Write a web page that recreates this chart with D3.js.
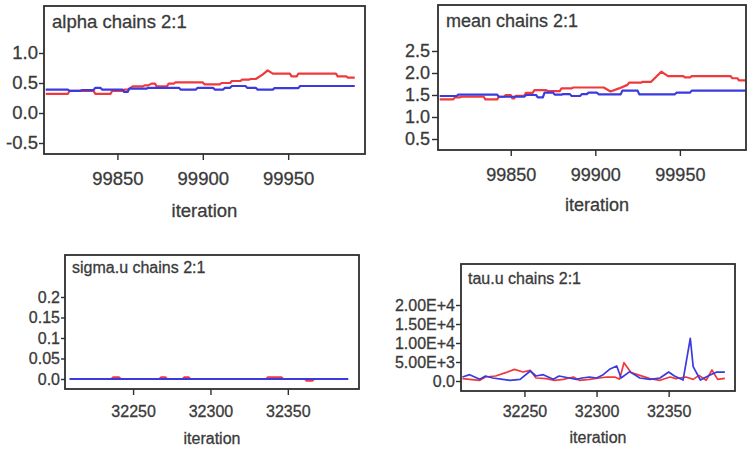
<!DOCTYPE html>
<html>
<head>
<meta charset="utf-8">
<script src="https://cdn.jsdelivr.net/npm/d3@7"></script>
<style>
  body { margin: 0; background: #fff; }
  svg { display: block; font-family: "Liberation Sans", Arial, sans-serif; }
  svg text { stroke: #3a3a3a; stroke-width: 0.3px; }
</style>
</head>
<body>
<svg id="chart" width="747" height="451"></svg>
<script>
// ---- Trace data: [iteration, value]; chain 1 drawn blue, chain 2 drawn red ----
const alphaChain1 = [[99808,0.39],[99821,0.39],[99822,0.37],[99828,0.37],[99829,0.38],[99836,0.38],[99837,0.42],[99840,0.42],[99841,0.39],[99853,0.39],[99854,0.35],[99856,0.35],[99857,0.405],[99867,0.405],[99868,0.42],[99886,0.42],[99887,0.39],[99896,0.39],[99897,0.42],[99906,0.42],[99907,0.39],[99912,0.39],[99913,0.42],[99916,0.42],[99917,0.45],[99925,0.45],[99926,0.42],[99931,0.42],[99932,0.39],[99941,0.39],[99942,0.415],[99956,0.415],[99957,0.45],[99989,0.45]];
const alphaChain2 = [[99808,0.32],[99821,0.32],[99822,0.37],[99836,0.37],[99837,0.32],[99846,0.32],[99847,0.37],[99853,0.37],[99854,0.39],[99856,0.39],[99859,0.445],[99865,0.445],[99866,0.46],[99868,0.46],[99870,0.49],[99872,0.49],[99873,0.445],[99879,0.445],[99880,0.49],[99883,0.49],[99884,0.51],[99900,0.51],[99901,0.478],[99910,0.478],[99911,0.5],[99916,0.5],[99917,0.533],[99922,0.533],[99923,0.555],[99927,0.555],[99928,0.567],[99931,0.567],[99935,0.64],[99938,0.71],[99941,0.655],[99951,0.655],[99952,0.61],[99955,0.61],[99956,0.655],[99978,0.655],[99979,0.61],[99984,0.61],[99985,0.59],[99989,0.59]];

const meanChain1 = [[99808,1.477],[99818,1.477],[99819,1.508],[99842,1.508],[99843,1.46],[99858,1.46],[99859,1.5],[99865,1.5],[99866,1.447],[99869,1.447],[99870,1.553],[99875,1.553],[99876,1.508],[99880,1.508],[99881,1.52],[99885,1.52],[99886,1.477],[99891,1.477],[99892,1.52],[99895,1.52],[99896,1.553],[99901,1.553],[99902,1.515],[99915,1.515],[99916,1.6],[99925,1.6],[99926,1.515],[99947,1.515],[99948,1.553],[99956,1.553],[99957,1.6],[99989,1.6]];
const meanChain2 = [[99808,1.40],[99816,1.40],[99817,1.447],[99820,1.447],[99821,1.46],[99834,1.46],[99835,1.40],[99842,1.40],[99843,1.46],[99846,1.46],[99847,1.5],[99850,1.5],[99851,1.42],[99852,1.42],[99853,1.48],[99858,1.48],[99859,1.55],[99863,1.55],[99864,1.61],[99871,1.61],[99872,1.59],[99879,1.59],[99880,1.65],[99886,1.65],[99887,1.67],[99905,1.67],[99909,1.58],[99914,1.65],[99919,1.73],[99920,1.78],[99927,1.78],[99928,1.80],[99933,1.80],[99939,2.03],[99943,1.93],[99952,1.93],[99953,1.90],[99956,1.90],[99957,1.93],[99980,1.93],[99981,1.88],[99984,1.88],[99985,1.83],[99989,1.83]];

const sigmaChain1 = [[32209,0],[32389,0]];
const sigmaChain2 = [[32209,0],[32236,0],[32237,0.004],[32241,0.004],[32242,0],[32267,0],[32268,0.004],[32271,0.004],[32272,0],[32282,0],[32283,0.004],[32286,0.004],[32287,0],[32336,0],[32337,0.004],[32346,0.004],[32347,0],[32361,0],[32362,-0.004],[32366,-0.004],[32367,0],[32389,0]];

const tauChain1 = [[32207,1050],[32212,1670],[32219,440],[32223,1320],[32228,790],[32235,440],[32240,180],[32247,440],[32254,2630],[32258,1320],[32263,1670],[32270,440],[32274,1320],[32281,790],[32286,440],[32290,790],[32295,1050],[32300,790],[32304,1490],[32309,3070],[32314,3950],[32317,790],[32323,2460],[32330,790],[32337,440],[32344,790],[32350,2370],[32354,1320],[32360,260],[32365,11240],[32367,3770],[32372,260],[32378,1440],[32383,2320],[32389,2320]];
const tauChain2 = [[32207,610],[32212,440],[32219,180],[32223,1050],[32230,1320],[32237,2190],[32243,3070],[32249,2370],[32254,2810],[32258,790],[32265,610],[32271,180],[32277,440],[32284,1050],[32288,180],[32295,440],[32302,790],[32307,1050],[32313,1000],[32316,500],[32319,4820],[32324,2190],[32330,1490],[32337,610],[32344,180],[32351,1050],[32355,610],[32362,1050],[32367,440],[32371,1490],[32376,180],[32380,2900],[32384,440],[32389,700]];

// ---- Tick values and their printed labels ----
const alphaTicks = [1.0, 0.5, 0.0, -0.5];
const alphaTickLabels = ["1.0", "0.5", "0.0", "-0.5"];
const meanTicks = [2.5, 2.0, 1.5, 1.0, 0.5];
const meanTickLabels = ["2.5", "2.0", "1.5", "1.0", "0.5"];
const sigmaTicks = [0.2, 0.15, 0.1, 0.05, 0.0];
const sigmaTickLabels = ["0.2", "0.15", "0.1", "0.05", "0.0"];
const tauTicks = [20000, 15000, 10000, 5000, 0];
const tauTickLabels = ["2.00E+4", "1.50E+4", "1.00E+4", "5.00E+3", "0.0"];
const upperIterTicks = [99850, 99900, 99950];
const lowerIterTicks = [32250, 32300, 32350];

const titles = ["alpha chains 2:1", "mean chains 2:1", "sigma.u chains 2:1", "tau.u chains 2:1"];
const xLabel = "iteration";

// ---- Panel layout ----
const panels = [
  { title: titles[0], c1: alphaChain1, c2: alphaChain2, yTicks: alphaTicks, yLabels: alphaTickLabels, xTicks: upperIterTicks,
    xDomain: [99807, 99995], yDomain: [-0.683, 1.783], xRange: [44, 365], frameRight: 365, top: 6, bottom: 154,
    font: 18.5, titleDx: 8, titleDy: 22, xPad: 12, labelDy: 63, yTick: 5, yPad: 1, lw: 2.2 },
  { title: titles[1], c1: meanChain1, c2: meanChain2, yTicks: meanTicks, yLabels: meanTickLabels, xTicks: upperIterTicks,
    xDomain: [99807, 99995], yDomain: [0.25, 3.545], xRange: [438, 756], frameRight: 746, top: 5, bottom: 150,
    font: 18, titleDx: 8, titleDy: 22, xPad: 12, labelDy: 61, yTick: 6, yPad: 2, lw: 2.2 },
  { title: titles[2], c1: sigmaChain1, c2: sigmaChain2, yTicks: sigmaTicks, yLabels: sigmaTickLabels, xTicks: lowerIterTicks,
    xDomain: [32206, 32396], yDomain: [-0.0244, 0.3024], xRange: [65, 359], frameRight: 359, top: 255, bottom: 389,
    font: 16, titleDx: 7, titleDy: 18, xPad: 11, labelDy: 55, yTick: 4, yPad: 1, lw: 2 },
  { title: titles[3], c1: tauChain1, c2: tauChain2, yTicks: tauTicks, yLabels: tauTickLabels, xTicks: lowerIterTicks,
    xDomain: [32206, 32396], yDomain: [-2632, 30790], xRange: [461, 735], frameRight: 735, top: 264, bottom: 391,
    font: 16, titleDx: 7, titleDy: 20, xPad: 9, labelDy: 52, yTick: 5, yPad: 1, lw: 1.7 }
];

const TEXT = "#3a3a3a";
const FRAME = "#2e2e2e";
const RED = "#f0393c";
const BLUE = "#3a3ae0";

const svg = d3.select("#chart");

panels.forEach((p, i) => {
  const x = d3.scaleLinear().domain(p.xDomain).range(p.xRange);
  const y = d3.scaleLinear().domain(p.yDomain).range([p.bottom, p.top]);
  const left = p.xRange[0];
  const g = svg.append("g");

  const clipId = "clip" + i;
  g.append("clipPath").attr("id", clipId)
    .append("rect").attr("x", left).attr("y", p.top)
    .attr("width", p.frameRight - left).attr("height", p.bottom - p.top);

  // y axis
  const yAxis = d3.axisLeft(y).tickValues(p.yTicks)
    .tickFormat((d, k) => p.yLabels[k])
    .tickSizeInner(p.yTick).tickSizeOuter(0).tickPadding(p.yPad);
  const ya = g.append("g").attr("transform", `translate(${left},0)`).call(yAxis);
  ya.select(".domain").remove();
  ya.selectAll("line").attr("stroke", FRAME).attr("stroke-width", 1.4);
  ya.selectAll("text").attr("fill", TEXT).attr("font-size", p.font)
    .attr("font-family", '"Liberation Sans", Arial, sans-serif');

  // x axis
  const xAxis = d3.axisBottom(x).tickValues(p.xTicks).tickFormat(d3.format("d"))
    .tickSizeInner(6).tickSizeOuter(0).tickPadding(p.xPad);
  const xa = g.append("g").attr("transform", `translate(0,${p.bottom})`).call(xAxis);
  xa.select(".domain").remove();
  xa.selectAll("line").attr("stroke", FRAME).attr("stroke-width", 1.4);
  xa.selectAll("text").attr("fill", TEXT).attr("font-size", p.font)
    .attr("font-family", '"Liberation Sans", Arial, sans-serif');

  // traces: chain 2 underneath, chain 1 on top
  const line = d3.line().x(d => x(d[0])).y(d => y(d[1]));
  const traces = g.append("g").attr("clip-path", `url(#${clipId})`);
  traces.append("path").datum(p.c2).attr("d", line)
    .attr("fill", "none").attr("stroke", RED).attr("stroke-width", p.lw).attr("stroke-linejoin", "round");
  traces.append("path").datum(p.c1).attr("d", line)
    .attr("fill", "none").attr("stroke", BLUE).attr("stroke-width", p.lw).attr("stroke-linejoin", "round");

  // frame
  g.append("rect").attr("x", left).attr("y", p.top)
    .attr("width", p.frameRight - left).attr("height", p.bottom - p.top)
    .attr("fill", "none").attr("stroke", FRAME).attr("stroke-width", 1.8);

  // title inside frame
  g.append("text").attr("x", left + p.titleDx).attr("y", p.top + p.titleDy)
    .attr("fill", TEXT).attr("font-size", p.font).text(p.title);

  // x label
  g.append("text").attr("x", (p.xRange[0] + p.xRange[1]) / 2).attr("y", p.bottom + p.labelDy)
    .attr("text-anchor", "middle").attr("fill", TEXT).attr("font-size", p.font).text(xLabel);
});
</script>
</body>
</html>
